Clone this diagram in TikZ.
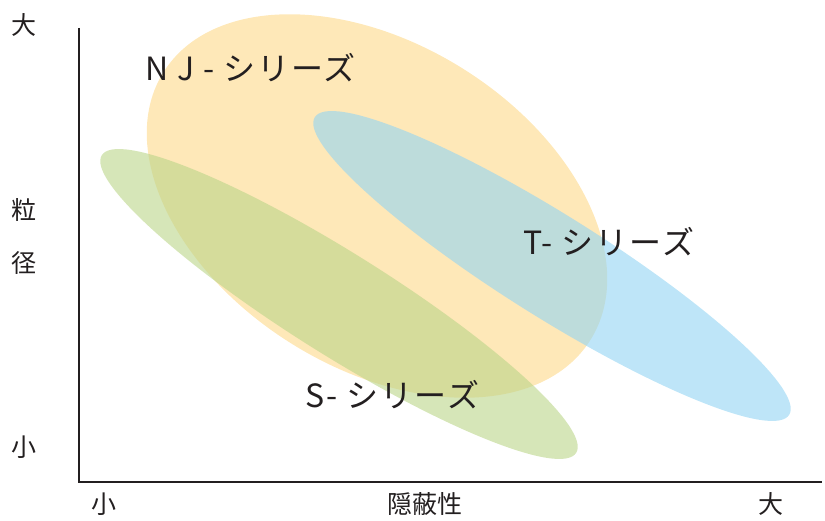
\documentclass[tikz,border=0pt]{standalone}
\usepackage{fontspec}
\newfontfamily\jp{Noto Sans CJK JP}
\newfontfamily\jpsp[LetterSpace=6]{Noto Sans CJK JP}
\definecolor{ocol}{RGB}{254,232,184}
\definecolor{gcol}{RGB}{187,213,137}
\definecolor{bcol}{RGB}{147,212,243}
\definecolor{axcol}{RGB}{35,31,32}
\tikzset{
  series/.style={font=\jpsp\fontsize{32}{32}\selectfont, text=axcol, anchor=base west, inner sep=0pt},
  axlab/.style={font=\jp\fontsize{25}{25}\selectfont, text=axcol, inner sep=0pt},
  axisline/.style={draw=axcol, line width=2pt}
}
\begin{document}
\begin{tikzpicture}[x=1pt,y=1pt]
\useasboundingbox (0,0) rectangle (825,520);
% ellipses
\fill[ocol, rotate around={-32.1:(377,314)}] (377,314) ellipse [x radius=252, y radius=162];
\fill[gcol, fill opacity=0.6, rotate around={-32.1:(339,216)}] (339,216) ellipse [x radius=280, y radius=51];
\fill[bcol, fill opacity=0.6, rotate around={-32.1:(552,254)}] (552,254) ellipse [x radius=280, y radius=51];
% axes
\coordinate (ytop) at (79,492);
\coordinate (orig) at (79,38);
\coordinate (xend) at (822,38);
\draw[axisline] (ytop) -- (orig) -- (xend);
% series labels
\node[series] (nj) at (145,439) {N J - シリーズ};
\node[series] (t) at (523,265) {T- シリーズ};
\node[series] (s) at (305,113) {S- シリーズ};
% axis labels
\node[axlab] (ybig) at (24,495) {大};
\node[axlab] (y1) at (24,310) {粒};
\node[axlab] (y2) at (24,257) {径};
\node[axlab] (ysmall) at (24,73) {小};
\node[axlab] (xsmall) at (104,16) {小};
\node[axlab] (xlab) at (425,16) {隠蔽性};
\node[axlab] (xbig) at (771,16) {大};
\end{tikzpicture}
\end{document}
